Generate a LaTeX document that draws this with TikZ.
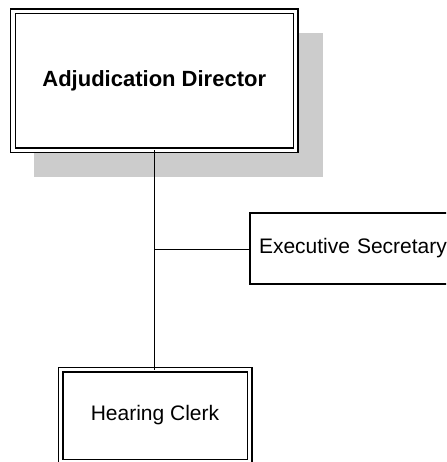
\documentclass[tikz,border=0pt]{standalone}
\usepackage{fontspec}
\setmainfont{Liberation Sans}
\definecolor{shadowgray}{RGB}{204,204,204}
\begin{document}
\begin{tikzpicture}[x=1pt,y=-1pt,
  dbox/.style={draw=black, line width=1.4pt, double=white, double distance=3.2pt, fill=white,
    inner sep=0pt, outer sep=0pt, font=\fontsize{21}{25}\selectfont},
  sbox/.style={draw=black, line width=1.3pt, fill=white, inner sep=0pt, outer sep=0pt,
    font=\fontsize{21}{25}\selectfont},
  conn/.style={draw=black, line width=1pt}]
\useasboundingbox (0,0) rectangle (446,462);
\clip (0,0) rectangle (446,462);
% shadow
\fill[shadowgray] (34,33) rectangle (323,177);
\node[dbox, minimum width=282.5pt, minimum height=139pt] (dir) at (154.25,81) {\fontsize{22}{26}\selectfont\bfseries Adjudication Director};
\node[sbox, minimum width=202pt, minimum height=71pt, text width=184pt, align=left] (sec) at (351,248.5) {\mbox{Executive Secretary}};
\node[dbox, minimum width=189pt, minimum height=92pt] (clerk) at (155,415.5) {Hearing Clerk};
\coordinate (j) at (154,249);
\draw[conn] (dir.south -| j) -- (clerk.north -| j);
\draw[conn] (j) -- (sec.west |- j);
\end{tikzpicture}
\end{document}
